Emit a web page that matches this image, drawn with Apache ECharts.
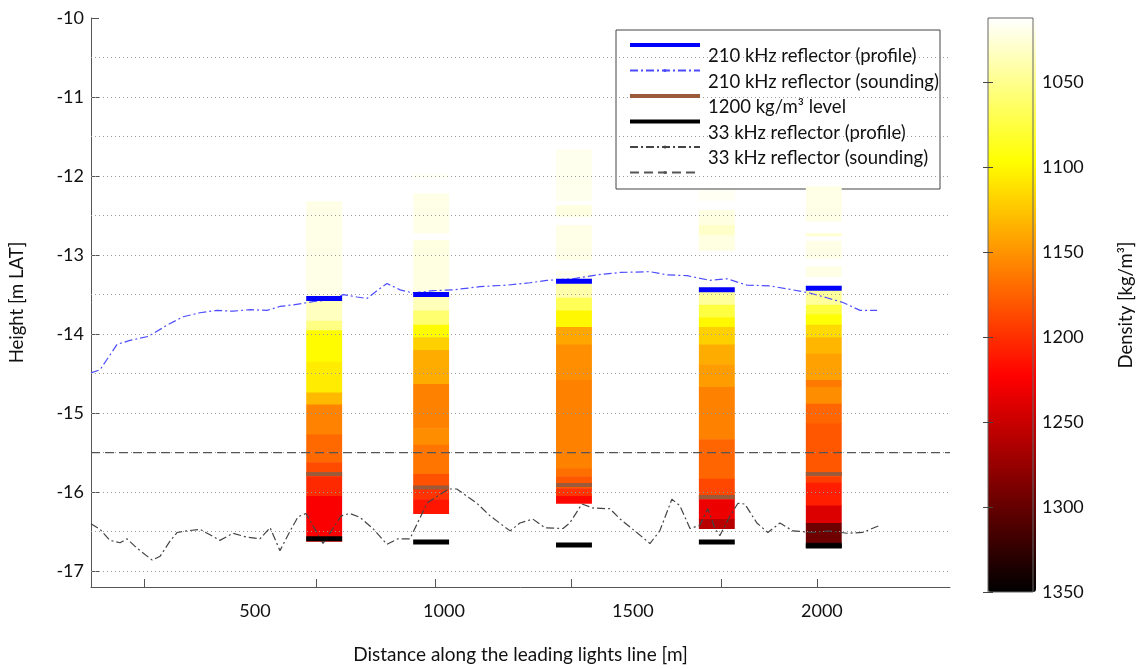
<!DOCTYPE html>
<html>
<head>
<meta charset="utf-8">
<title>Density profiles along the leading lights line</title>
<script src="https://cdn.jsdelivr.net/npm/echarts@6/dist/echarts.min.js"></script>
<style>
  html, body { margin: 0; padding: 0; background: #fff; }
  #chart { width: 1137px; height: 669px; }
</style>
</head>
<body>
<div id="chart"></div>
<script>
// 剖面位置 distance along the leading lights line [m]
const profileX = [683, 966, 1344, 1722, 2005];
const profileWidth = 95;

// 密度剖面: layer edges [m LAT] top -> bottom, density [kg/m³] per layer (null = no data)
const col1Edges = [-12.32, -13.54, -13.83, -13.95, -14.35, -14.74, -14.89, -15.27, -15.62, -15.80, -16.05, -16.62];
const col1Dens = [1020, 1033, 1053, 1098, 1106, 1131, 1158, 1171, 1186, 1203, 1225];
const col2Edges = [-11.97, -12.02, -12.22, -12.72, -12.81, -13.48, -13.70, -13.88, -14.04, -14.20, -14.63, -15.19, -15.40, -15.77, -15.93, -16.09, -16.27];
const col2Dens = [1015, null, 1020, null, 1022, 1035, 1060, 1098, 1120, 1138, 1159, 1153, 1165, 1183, 1198, 1213];
const col3Edges = [-11.66, -12.31, -12.37, -12.51, -12.62, -13.06, -13.20, -13.36, -13.54, -13.70, -13.91, -14.13, -14.58, -15.70, -15.80, -15.95, -16.05, -16.14];
const col3Dens = [1018, null, 1022, null, 1020, null, 1018, 1040, 1068, 1100, 1140, 1152, 1159, 1168, 1180, 1198, 1220];
const col4Edges = [-12.18, -12.31, -12.43, -12.62, -12.75, -12.94, -13.41, -13.63, -13.79, -13.91, -14.13, -14.38, -14.67, -15.33, -15.83, -16.09, -16.34, -16.46];
const col4Dens = [1016, null, 1022, 1030, 1022, null, 1045, 1075, 1100, 1120, 1138, 1145, 1159, 1173, 1188, 1232, 1258];
const col5Edges = [-12.13, -12.57, -12.72, -12.76, -12.82, -13.04, -13.14, -13.27, -13.40, -13.63, -13.75, -13.88, -14.04, -14.25, -14.58, -14.67, -14.88, -15.13, -15.80, -15.88, -16.17, -16.39, -16.64, -16.70];
const col5Dens = [1020, null, 1025, null, 1020, null, 1020, null, 1045, 1075, 1095, 1115, 1133, 1143, 1163, 1153, 1173, 1180, 1193, 1208, 1240, 1295, 1340];

// 反射层 reflector levels at each profile [m LAT]
const reflector210 = [-13.55, -13.50, -13.33, -13.44, -13.42];
const level1200 = [-15.77, -15.94, -15.91, -16.06, -15.77];
const reflector33 = [-16.59, -16.63, -16.67, -16.63, -16.68];

// 测深线 echo-sounding lines
const sounding210X = [66, 90, 135, 169, 217, 270, 310, 354, 399, 442, 487, 532, 566, 601, 653, 706, 733, 770, 796, 823, 849, 884, 918, 971, 1024, 1095, 1167, 1228, 1272, 1341, 1405, 1466, 1545, 1590, 1643, 1704, 1749, 1802, 1862, 1923, 1968, 2013, 2056, 2101, 2146];
const sounding210Y = [-14.49, -14.45, -14.13, -14.08, -14.03, -13.88, -13.78, -13.73, -13.70, -13.71, -13.69, -13.70, -13.65, -13.63, -13.59, -13.56, -13.50, -13.53, -13.55, -13.45, -13.36, -13.44, -13.48, -13.45, -13.44, -13.40, -13.38, -13.35, -13.32, -13.30, -13.25, -13.22, -13.21, -13.25, -13.26, -13.32, -13.30, -13.38, -13.39, -13.44, -13.48, -13.54, -13.60, -13.70, -13.70];
const sounding33X = [66, 90, 116, 143, 161, 188, 228, 249, 275, 294, 320, 354, 381, 407, 442, 479, 513, 540, 566, 593, 614, 635, 680, 728, 751, 778, 812, 849, 878, 910, 955, 1011, 1034, 1087, 1122, 1175, 1201, 1235, 1267, 1315, 1333, 1365, 1394, 1439, 1466, 1505, 1545, 1571, 1603, 1624, 1651, 1677, 1698, 1717, 1730, 1757, 1778, 1796, 1828, 1857, 1889, 1923, 1976, 2021, 2066, 2108, 2153];
const sounding33Y = [-16.40, -16.47, -16.61, -16.64, -16.59, -16.71, -16.86, -16.81, -16.62, -16.51, -16.49, -16.47, -16.54, -16.61, -16.52, -16.57, -16.59, -16.45, -16.74, -16.49, -16.31, -16.27, -16.65, -16.30, -16.27, -16.32, -16.46, -16.66, -16.59, -16.59, -16.14, -15.96, -15.96, -16.14, -16.30, -16.49, -16.39, -16.34, -16.45, -16.46, -16.39, -16.15, -16.20, -16.21, -16.34, -16.49, -16.65, -16.49, -16.09, -16.17, -16.46, -16.42, -16.21, -16.46, -16.55, -16.30, -16.14, -16.15, -16.39, -16.51, -16.39, -16.49, -16.51, -16.49, -16.52, -16.51, -16.42];

const referenceLevel = -15.5;

// 坐标轴 axes
const distanceMin = 66, distanceMax = 2339;
const heightMin = -17.2, heightMax = -10;
const heightTicks = [-17, -16, -15, -14, -13, -12, -11, -10];
const gridLevels = [-10.5, -11, -11.5, -12, -12.5, -13, -13.5, -14, -14.5, -15, -15.5, -16, -16.5, -17];
const distanceLabels = [500, 1000, 1500, 2000];
const distanceTicks = [206, 661, 976, 1336, 1733, 1989];
const densityMin = 1012, densityMax = 1350;
const densityTicks = [1050, 1100, 1150, 1200, 1250, 1300, 1350];
// hot colormap, reversed
const hotColors = ['#ffffff', '#ffff80', '#ffff00', '#ffaa00', '#ff5500', '#ff0000', '#aa0000', '#550000', '#000000'];

const FONT = 'Lato';

let myChart = echarts.init(document.getElementById('chart'));

// 组装密度块 build layer data [x, top, bottom, density]
const columnEdges = [col1Edges, col2Edges, col3Edges, col4Edges, col5Edges];
const columnDens = [col1Dens, col2Dens, col3Dens, col4Dens, col5Dens];
const layerData = [];
columnEdges.forEach(function (edges, c) {
  columnDens[c].forEach(function (d, i) {
    if (d !== null) layerData.push([profileX[c], edges[i], edges[i + 1], d]);
  });
});

function zip(xs, ys) {
  return xs.map(function (x, i) { return [x, ys[i]]; });
}

// 不要千位分隔符 plain numbers on the axes
function plain(v) {
  return String(v);
}

// 剖面上的短横线 marker bars on the profiles
function markerSeries(name, color, values, thick) {
  return {
    name: name,
    type: 'custom',
    xAxisIndex: 0,
    yAxisIndex: 0,
    z: 6,
    itemStyle: { color: color },
    data: zip(profileX, values),
    renderItem: function (params, api) {
      const x = api.value(0), y = api.value(1);
      const p1 = api.coord([x - profileWidth / 2, y]);
      const p2 = api.coord([x + profileWidth / 2, y]);
      return {
        type: 'rect',
        shape: { x: p1[0], y: p1[1] - thick / 2, width: p2[0] - p1[0], height: thick },
        style: { fill: color }
      };
    }
  };
}

const axisFont = { fontFamily: FONT, fontSize: 18, color: '#111' };
const nameFont = { fontFamily: FONT, fontSize: 18.5, color: '#111' };

let option = {
  animation: false,
  backgroundColor: '#fff',
  grid: [
    { left: 91, top: 18, right: 187, bottom: 78 },
    { left: 988, top: 18, width: 48, bottom: 77, show: true, z: 6, borderColor: '#666', borderWidth: 1, backgroundColor: 'transparent' }
  ],
  xAxis: [
    {
      type: 'value',
      gridIndex: 0,
      min: distanceMin,
      max: distanceMax,
      name: 'Distance along the leading lights line [m]',
      nameLocation: 'middle',
      nameGap: 58,
      nameTextStyle: { fontFamily: FONT, fontSize: 19, color: '#111' },
      axisLine: { show: true, onZero: false, lineStyle: { color: '#555', width: 1 } },
      axisTick: { show: true, inside: true, length: 8, customValues: distanceTicks, lineStyle: { color: '#555' } },
      axisLabel: Object.assign({ margin: 15, customValues: distanceLabels, formatter: plain }, axisFont),
      splitLine: { show: false }
    },
    { type: 'value', gridIndex: 1, min: 0, max: 1, show: false }
  ],
  yAxis: [
    {
      type: 'value',
      gridIndex: 0,
      min: heightMin,
      max: heightMax,
      name: 'Height [m LAT]',
      nameLocation: 'middle',
      nameGap: 64,
      nameRotate: 90,
      nameTextStyle: nameFont,
      axisLine: { show: true, onZero: false, lineStyle: { color: '#555', width: 1 } },
      axisTick: { show: true, inside: true, length: 8, customValues: heightTicks, lineStyle: { color: '#555' } },
      axisLabel: Object.assign({ margin: 7, customValues: heightTicks, formatter: plain }, axisFont),
      splitLine: { show: false }
    },
    {
      // 色标 colour bar axis
      type: 'value',
      gridIndex: 1,
      position: 'right',
      inverse: true,
      min: densityMin,
      max: densityMax,
      z: 6,
      name: 'Density [kg/m³]',
      nameLocation: 'middle',
      nameGap: 84,
      nameRotate: 90,
      nameTextStyle: nameFont,
      axisLine: { show: false },
      axisTick: { show: true, inside: true, length: 5, customValues: densityTicks, lineStyle: { color: '#444' } },
      axisLabel: Object.assign({ margin: 9, customValues: densityTicks, formatter: plain }, axisFont),
      splitLine: { show: false }
    },
    {
      type: 'value',
      gridIndex: 1,
      position: 'left',
      inverse: true,
      min: densityMin,
      max: densityMax,
      z: 6,
      axisLine: { show: false },
      axisTick: { show: true, inside: true, length: 5, customValues: densityTicks, lineStyle: { color: '#444' } },
      axisLabel: { show: false },
      splitLine: { show: false }
    }
  ],
  visualMap: {
    type: 'continuous',
    seriesIndex: 1,
    dimension: 3,
    min: densityMin,
    max: densityMax,
    inverse: true,
    orient: 'vertical',
    left: 988,
    top: 18,
    padding: 0,
    itemWidth: 48,
    itemHeight: 574,
    calculable: false,
    hoverLink: false,
    text: null,
    showLabel: false,
    inRange: { color: hotColors }
  },
  legend: {
    orient: 'vertical',
    left: 629,
    top: 22,
    padding: 0,
    itemWidth: 70,
    itemHeight: 4,
    itemGap: -20.5,
    selectedMode: false,
    z: 8,
    data: [
      { name: '210 kHz reflector (profile)', icon: 'rect' },
      '210 kHz reflector (sounding)',
      { name: '1200 kg/m³ level', icon: 'rect' },
      { name: '33 kHz reflector (profile)', icon: 'rect' },
      '33 kHz reflector (sounding)',
      'Reference level'
    ],
    // 文字比图例线低半行 label sits half a row below its line
    formatter: function (name) {
      return name === 'Reference level' ? '\n ' : '\n' + name;
    },
    textStyle: { fontFamily: FONT, fontSize: 18.5, color: '#111', lineHeight: 23, padding: [0, 0, 0, 3] }
  },
  graphic: [
    {
      type: 'rect',
      z: 3,
      shape: { x: 616, y: 30, width: 324, height: 159 },
      style: { fill: '#fff', stroke: '#444', lineWidth: 1 }
    }
  ],
  series: [
    {
      // 网格虚线 dotted grid lines
      name: 'grid',
      type: 'line',
      data: [],
      silent: true,
      z: 1,
      markLine: {
        silent: true,
        symbol: 'none',
        label: { show: false },
        lineStyle: { color: '#9a9a9a', width: 1, type: [1, 3] },
        data: gridLevels.map(function (v) { return { yAxis: v }; })
      }
    },
    {
      // 密度剖面 density columns
      name: 'density',
      type: 'custom',
      z: 3,
      data: layerData,
      encode: { x: 0, y: [1, 2] },
      renderItem: function (params, api) {
        const x = api.value(0);
        const p1 = api.coord([x - profileWidth / 2, api.value(1)]);
        const p2 = api.coord([x + profileWidth / 2, api.value(2)]);
        return {
          type: 'rect',
          shape: { x: p1[0], y: p1[1], width: p2[0] - p1[0], height: p2[1] - p1[1] + 0.5 },
          style: { fill: api.visual('color') }
        };
      }
    },
    {
      name: 'Reference level',
      type: 'line',
      z: 5,
      symbol: 'none',
      data: [[distanceMin, referenceLevel], [distanceMax, referenceLevel]],
      itemStyle: { color: '#555' },
      lineStyle: { color: '#555', width: 1.2, type: [9, 5] }
    },
    {
      name: '210 kHz reflector (sounding)',
      type: 'line',
      z: 5,
      symbol: 'none',
      data: zip(sounding210X, sounding210Y),
      itemStyle: { color: '#4d4dff' },
      lineStyle: { color: '#4d4dff', width: 1.2, type: [8, 3, 2, 3] }
    },
    {
      name: '33 kHz reflector (sounding)',
      type: 'line',
      z: 5,
      symbol: 'none',
      data: zip(sounding33X, sounding33Y),
      itemStyle: { color: '#444' },
      lineStyle: { color: '#444', width: 1.2, type: [8, 3, 2, 3] }
    },
    markerSeries('210 kHz reflector (profile)', '#0000ff', reflector210, 5),
    markerSeries('1200 kg/m³ level', '#9b5a3a', level1200, 4),
    markerSeries('33 kHz reflector (profile)', '#000000', reflector33, 5)
  ]
};

if (option && typeof option === 'object') {
  myChart.setOption(option, true);
  window.addEventListener('resize', function () {
    myChart.resize();
  });
}
</script>
</body>
</html>
